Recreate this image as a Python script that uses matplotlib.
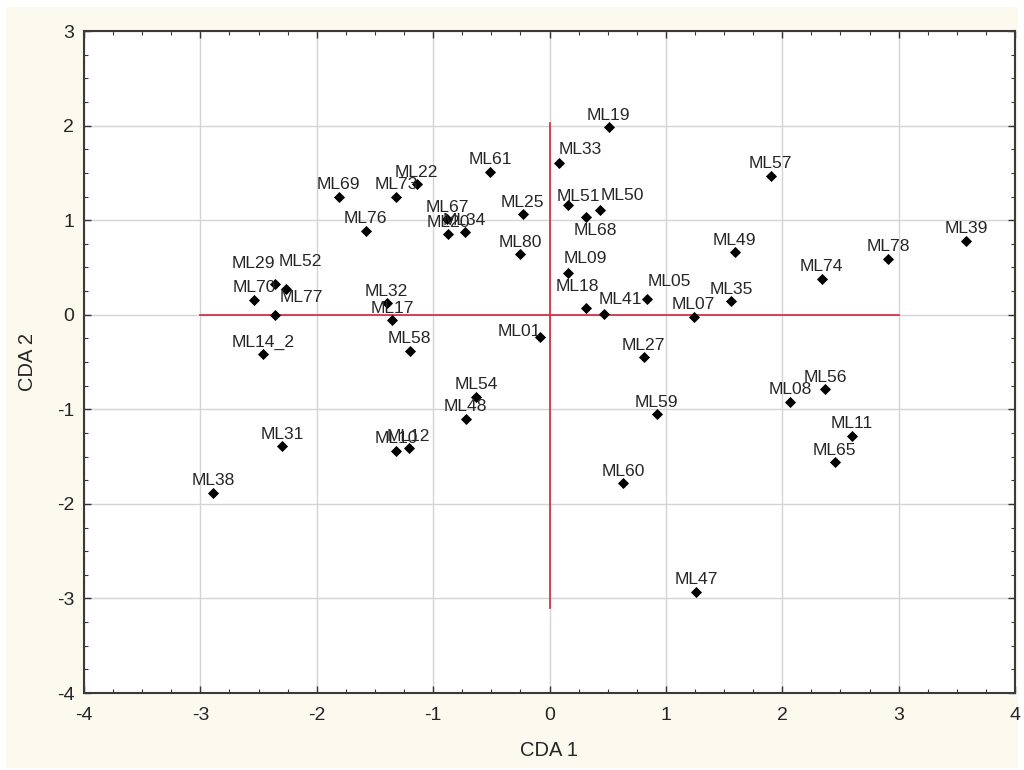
import matplotlib
matplotlib.use('Agg')
import matplotlib.pyplot as plt
from matplotlib.ticker import MultipleLocator
from matplotlib.patches import Rectangle

# sample scores on the two canonical axes
labels = ['ML61', 'ML22', 'ML69', 'ML73', 'ML76', 'ML67', 'ML20', 'ML34', 'ML25', 'ML80',
          'ML29', 'ML52', 'ML70', 'ML77', 'ML32', 'ML17', 'ML58', 'ML01', 'ML14_2',
          'ML54', 'ML48', 'ML31', 'ML10', 'ML12', 'ML38',
          'ML19', 'ML33', 'ML51', 'ML50', 'ML68', 'ML09', 'ML18', 'ML41', 'ML05',
          'ML07', 'ML35', 'ML49', 'ML57',
          'ML27', 'ML59', 'ML60', 'ML47', 'ML08', 'ML56', 'ML11', 'ML65',
          'ML74', 'ML78', 'ML39']
cda1 = [-0.51, -1.14, -1.81, -1.32, -1.58, -0.88, -0.87, -0.73, -0.23, -0.25,
        -2.36, -2.26, -2.54, -2.36, -1.40, -1.35, -1.20, -0.08, -2.46,
        -0.63, -0.72, -2.30, -1.32, -1.21, -2.89,
        0.51, 0.08, 0.16, 0.43, 0.31, 0.16, 0.31, 0.47, 0.84,
        1.24, 1.56, 1.59, 1.90,
        0.81, 0.92, 0.63, 1.26, 2.07, 2.37, 2.60, 2.45,
        2.34, 2.91, 3.58]
cda2 = [1.51, 1.38, 1.25, 1.25, 0.89, 1.01, 0.85, 0.87, 1.06, 0.64,
        0.33, 0.27, 0.16, 0.00, 0.12, -0.06, -0.38, -0.24, -0.42,
        -0.87, -1.10, -1.39, -1.44, -1.41, -1.88,
        1.98, 1.60, 1.16, 1.11, 1.03, 0.44, 0.07, 0.01, 0.17,
        -0.02, 0.14, 0.66, 1.47,
        -0.45, -1.05, -1.78, -2.93, -0.92, -0.79, -1.28, -1.56,
        0.38, 0.59, 0.78]

# red reference axes
hline_x = [-3.0, 3.0]
vline_y = [-3.1, 2.03]

# label offsets in pixels (dx right, dy up); default sits just above the point
default_off = (0, 12)
label_off = {
    'ML29': (-21, 20), 'ML52': (14, 28), 'ML77': (27, 17),
    'ML68': (10, -13), 'ML41': (16, 14), 'ML05': (22, 17),
    'ML18': (-8, 22), 'ML09': (17, 15), 'ML51': (10, 9),
    'ML50': (23, 14), 'ML33': (21, 14), 'ML01': (-21, 6),
}

plt.rcParams['axes.unicode_minus'] = False

dpi = 100
fig = plt.figure(figsize=(10.24, 7.70), dpi=dpi, facecolor='white')
fig.patches.append(Rectangle((6 / 1024, 2 / 770), 1012 / 1024, 761 / 770,
                             transform=fig.transFigure, facecolor='#fcf9ee',
                             edgecolor='none', zorder=-10))
ax = fig.add_axes([84 / 1024, 77 / 770, 931 / 1024, 662 / 770])
ax.set_facecolor('white')

font = ['Liberation Sans', 'DejaVu Sans']
txt = '#262626'

ax.grid(True, color='#d4d4d4', linewidth=1.0)
ax.set_axisbelow(True)

ax.plot(hline_x, [0, 0], color='#d2344a', linewidth=1.3, zorder=2)
ax.plot([0, 0], vline_y, color='#d2344a', linewidth=1.3, zorder=2)

ax.scatter(cda1, cda2, marker='D', s=32, color='black', zorder=3, linewidths=0)

k = 72.0 / dpi
for name, x, y in zip(labels, cda1, cda2):
    dx, dy = label_off.get(name, default_off)
    ax.annotate(name, (x, y), xytext=(dx * k, dy * k), textcoords='offset points',
                ha='center', va='center', fontsize=12.6, color=txt, family=font,
                zorder=4)

ax.set_xlim(-4, 4)
ax.set_ylim(-4, 3)
ax.xaxis.set_major_locator(MultipleLocator(1))
ax.yaxis.set_major_locator(MultipleLocator(1))
ax.xaxis.set_minor_locator(MultipleLocator(0.25))
ax.yaxis.set_minor_locator(MultipleLocator(0.25))
ax.tick_params(which='both', direction='in', top=True, right=True,
               color='#333333', labelsize=14, labelcolor=txt)
ax.tick_params(which='major', length=5, width=1)
ax.tick_params(which='minor', length=3, width=0.8)
for lab in ax.get_xticklabels() + ax.get_yticklabels():
    lab.set_family(font)
ax.tick_params(axis='x', pad=10)
ax.tick_params(axis='y', pad=7)
for sp in ax.spines.values():
    sp.set_color('#3a3a3a')
    sp.set_linewidth(1.5)

ax.set_xlabel('CDA 1', fontsize=14.5, color=txt, family=font, labelpad=12)
ax.set_ylabel('CDA 2', fontsize=14.5, color=txt, family=font, labelpad=14)

fig.savefig('out.png', dpi=dpi, facecolor=fig.get_facecolor())
